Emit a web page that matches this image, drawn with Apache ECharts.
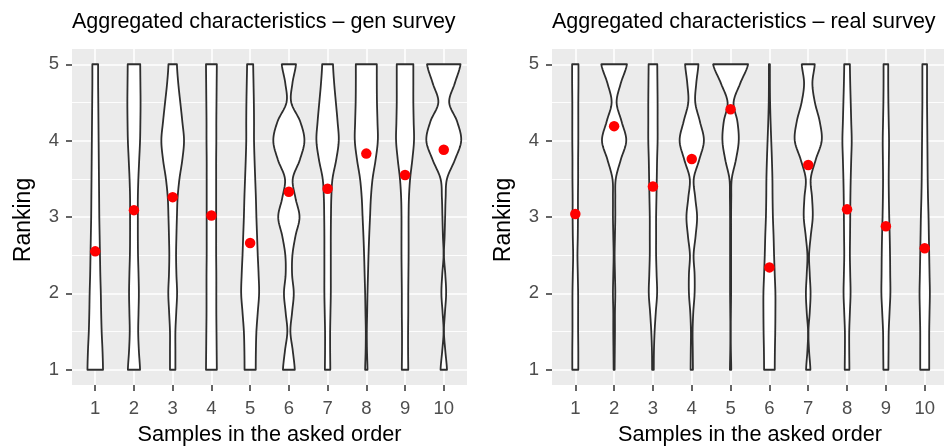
<!DOCTYPE html>
<html>
<head>
<meta charset="utf-8">
<script src="https://cdn.jsdelivr.net/npm/echarts@6/dist/echarts.min.js"></script>
<style>
  html, body { margin: 0; padding: 0; background: #ffffff; }
  #chart { width: 944px; height: 446px; }
</style>
</head>
<body>
<div id="chart"></div>
<script>
// Samples on the x axis and ranking ticks on the y axis
const categories = ['1', '2', '3', '4', '5', '6', '7', '8', '9', '10'];
const rankTicks = ['1', '2', '3', '4', '5'];

// Ranking levels at which each violin's density is given (bottom to top)
const densityLevels = [1, 1.25, 1.5, 1.75, 2, 2.25, 2.5, 2.75, 3, 3.25, 3.5, 3.75, 4, 4.25, 4.5, 4.75, 5];

// Mean ranking per sample (red dots)
const genMeans  = [2.55, 3.09, 3.26, 3.02, 2.66, 3.33, 3.37, 3.83, 3.55, 3.88];
const realMeans = [3.04, 4.19, 3.40, 3.76, 4.41, 2.34, 3.68, 3.10, 2.88, 2.59];

// Kernel density per sample at each level (arbitrary units, scaled per panel)
const genDensity = [
  [23, 21.5, 19, 17.5, 16.5, 15, 14, 13, 12, 11.5, 11, 10.5, 10, 9.5, 9, 8.5, 8.5],
  [18, 14.5, 12.5, 13.5, 14.5, 13.5, 12, 11.5, 11.5, 11.5, 13, 15.5, 18, 19, 19.5, 19, 18.5],
  [8, 8, 8, 10.5, 13, 11, 10, 11, 12.5, 14.5, 20, 28.5, 33.5, 28.5, 22.5, 16.5, 12.5],
  [16, 15.5, 15, 14.5, 14.5, 14.5, 14, 14, 14, 14, 14, 14, 14.5, 14.5, 15, 15.5, 16],
  [16.5, 17, 18.5, 22.5, 26.5, 25, 22.5, 20.5, 18.5, 17, 15, 13, 11.5, 11.5, 11, 10, 9],
  [17.5, 11.5, 4.5, 9.5, 14.5, 9.5, 10.5, 19.5, 31.5, 19.5, 11.5, 32.5, 46, 33.5, 7, 10.5, 21],
  [8, 7.5, 7.5, 8.5, 9.5, 9.5, 9.5, 9.5, 10, 11, 14.5, 25.5, 33, 29.5, 24.5, 19.5, 16],
  [3.5, 2, 1.5, 2.5, 3.5, 5, 6.5, 8.5, 11, 13.5, 18.5, 27.5, 34, 33, 31.5, 31, 31],
  [9.5, 9, 9, 9.5, 9.5, 10, 10.5, 10.5, 10.5, 11.5, 15, 21.5, 26.5, 25.5, 24.5, 24.5, 24.5],
  [9.5, 4.5, 0.5, 3.5, 7, 4.5, 0.5, 2.5, 4, 5.5, 9.5, 33, 51.5, 39.5, 16, 32.5, 49.5]
];
const realDensity = [
  [9, 9, 8.5, 8.5, 8.5, 7.5, 6.5, 7.5, 8, 8, 8.5, 8.5, 9, 9, 9, 9.5, 9.5],
  [1.5, 2, 2.5, 2.5, 3.5, 2.5, 1.5, 2.5, 3.5, 3.5, 5, 20, 36.5, 22.5, 7.5, 20, 38.5],
  [2.5, 3, 5, 8.5, 12.5, 11, 9.5, 9.5, 9.5, 10.5, 11.5, 12.5, 14, 14, 14, 13.5, 13],
  [3.5, 3, 2.5, 4.5, 8.5, 8.5, 5.5, 11.5, 16, 10.5, 6, 22.5, 36.5, 24.5, 10.5, 13.5, 20],
  [2, 1, 0.5, 1, 1.5, 1.5, 1.5, 1.5, 1.5, 2, 3.5, 16, 24.5, 20.5, 9, 29, 52.5],
  [16, 16.5, 17.5, 18, 18, 16, 14, 12.5, 10.5, 9.5, 9, 7.5, 5.5, 3.5, 2, 1.5, 1.5],
  [6.5, 2.5, 0.5, 4.5, 7, 4.5, 2.5, 7.5, 13.5, 11.5, 7.5, 22.5, 40.5, 34.5, 20, 12.5, 19.5],
  [7, 6.5, 6.5, 8.5, 10.5, 9.5, 8.5, 9, 9.5, 10, 11, 12.5, 14, 12.5, 11, 9.5, 8.5],
  [7.5, 8, 8.5, 11, 13.5, 13, 12.5, 11.5, 10, 9, 8.5, 9, 9.5, 8.5, 7.5, 7, 7],
  [13.5, 13.5, 13.5, 14.5, 15.5, 14.5, 13.5, 12.5, 11.5, 10, 9, 8.5, 8, 7.5, 7, 7, 7]
];

const FONT = '"Liberation Sans", Arial, Helvetica, sans-serif';
const X_MIN = 0.4, X_MAX = 10.6;   // discrete axis padded by 0.6 on each side
const Y_MIN = 0.8, Y_MAX = 5.2;    // 1..5 padded by 5 %

// Fine-grained category axes (step 0.1) so ticks and grid lines sit exactly on
// the sample positions and ranking levels while keeping the padded ranges.
const xFine = [];
for (let k = 0; Math.round((X_MIN + k * 0.1) * 10) <= X_MAX * 10; k++) xFine.push((X_MIN + k * 0.1).toFixed(1));
const yFine = [];
for (let k = 0; Math.round((Y_MIN + k * 0.1) * 10) <= Y_MAX * 10; k++) yFine.push((Y_MIN + k * 0.1).toFixed(1));
const isWhole = v => Math.round(Number(v) * 10) % 10 === 0;
const isHalf = v => Math.round(Number(v) * 10) % 10 === 5;

function violinRenderer(densities) {
  const peak = Math.max(...densities.flat());
  const n = densityLevels.length;
  const steps = 10;
  return function (params, api) {
    const cx = api.value(0);
    const half = densities[params.dataIndex].map(v => v / peak * 0.45);
    const outline = [];
    for (let s = 0; s < n - 1; s++) {
      const p0 = half[Math.max(s - 1, 0)], p1 = half[s], p2 = half[s + 1], p3 = half[Math.min(s + 2, n - 1)];
      const y0 = densityLevels[s], y1 = densityLevels[s + 1];
      for (let k = 0; k < steps; k++) {
        const t = k / steps;
        const h = 0.5 * (2 * p1 + (-p0 + p2) * t + (2 * p0 - 5 * p1 + 4 * p2 - p3) * t * t +
                  (-p0 + 3 * p1 - 3 * p2 + p3) * t * t * t);
        outline.push([y0 + (y1 - y0) * t, Math.max(h, 0.006)]);
      }
    }
    outline.push([densityLevels[n - 1], Math.max(half[n - 1], 0.006)]);
    const leftSide = outline.map(([y, h]) => api.coord([cx - h, y]));
    const rightSide = outline.slice().reverse().map(([y, h]) => api.coord([cx + h, y]));
    return {
      type: 'polygon',
      shape: { points: leftSide.concat(rightSide) },
      style: { fill: '#ffffff', stroke: '#2e2e2e', lineWidth: 1.8, lineJoin: 'round' }
    };
  };
}

function panelAxes(gridIndex) {
  const xAxes = [
    {
      gridIndex, type: 'category', data: xFine, boundaryGap: false,
      name: 'Samples in the asked order', nameLocation: 'middle', nameGap: 39,
      nameTextStyle: { fontFamily: FONT, fontSize: 21.7, color: '#000000' },
      axisLine: { show: false },
      axisTick: { show: true, length: 6, interval: i => isWhole(xFine[i]), lineStyle: { color: '#333333', width: 1.5 } },
      axisLabel: { interval: i => isWhole(xFine[i]), formatter: v => categories[Math.round(Number(v)) - 1],
                   margin: 14, fontFamily: FONT, fontSize: 18.5, color: '#4d4d4d' },
      splitLine: { show: true, interval: i => isWhole(xFine[i]), lineStyle: { color: '#ffffff', width: 1.6 } }
    },
    { gridIndex, type: 'value', min: X_MIN, max: X_MAX, show: false }
  ];
  const yAxes = [
    {
      gridIndex, type: 'category', data: yFine, boundaryGap: false,
      name: 'Ranking', nameLocation: 'middle', nameGap: 37,
      nameTextStyle: { fontFamily: FONT, fontSize: 23, color: '#000000', padding: [0, 6, 0, 0] },
      axisLine: { show: false },
      axisTick: { show: true, length: 6, interval: i => isWhole(yFine[i]), lineStyle: { color: '#333333', width: 1.5 } },
      axisLabel: { interval: i => isWhole(yFine[i]), formatter: v => rankTicks[Math.round(Number(v)) - 1],
                   margin: 13, fontFamily: FONT, fontSize: 18.5, color: '#4d4d4d' },
      splitLine: { show: true, interval: i => isWhole(yFine[i]), lineStyle: { color: '#ffffff', width: 1.6 } }
    },
    {
      gridIndex, type: 'category', data: yFine, boundaryGap: false,
      axisLine: { show: false }, axisTick: { show: false }, axisLabel: { show: false },
      splitLine: { show: true, interval: i => isHalf(yFine[i]), lineStyle: { color: '#ffffff', width: 0.9 } }
    },
    { gridIndex, type: 'value', min: Y_MIN, max: Y_MAX, show: false }
  ];
  return { xAxes, yAxes };
}

const leftAxes = panelAxes(0);
const rightAxes = panelAxes(1);

function panelSeries(xAxisIndex, yAxisIndex, densities, means) {
  return [
    {
      type: 'custom', xAxisIndex, yAxisIndex,
      data: categories.map((c, k) => [k + 1, densityLevels[0], densityLevels[densityLevels.length - 1]]),
      encode: { x: 0, y: [1, 2] },
      renderItem: violinRenderer(densities),
      silent: true, z: 2
    },
    {
      type: 'scatter', xAxisIndex, yAxisIndex,
      data: means.map((m, k) => [k + 1, m]),
      symbol: 'circle', symbolSize: 10.5,
      itemStyle: { color: '#ff0000', opacity: 1 },
      silent: true, z: 3
    }
  ];
}

const chart = echarts.init(document.getElementById('chart'), null, { renderer: 'canvas' });
chart.setOption({
  animation: false,
  backgroundColor: '#ffffff',
  textStyle: { fontFamily: FONT },
  title: [
    { text: 'Aggregated characteristics \u2013 gen survey', left: 72, top: 11, padding: 0,
      textStyle: { fontFamily: FONT, fontSize: 21.5, fontWeight: 'normal', color: '#000000' } },
    { text: 'Aggregated characteristics \u2013 real survey', left: 552, top: 11, padding: 0,
      textStyle: { fontFamily: FONT, fontSize: 21.5, fontWeight: 'normal', color: '#000000' } }
  ],
  grid: [
    { left: 72, top: 49, width: 395, height: 336, outerBoundsMode: 'none', containLabel: false,
      show: true, backgroundColor: '#ebebeb', borderWidth: 0 },
    { left: 552, top: 49, width: 396, height: 336, outerBoundsMode: 'none', containLabel: false,
      show: true, backgroundColor: '#ebebeb', borderWidth: 0 }
  ],
  xAxis: leftAxes.xAxes.concat(rightAxes.xAxes),
  yAxis: leftAxes.yAxes.concat(rightAxes.yAxes),
  series: panelSeries(1, 2, genDensity, genMeans).concat(panelSeries(3, 5, realDensity, realMeans))
});
</script>
</body>
</html>
